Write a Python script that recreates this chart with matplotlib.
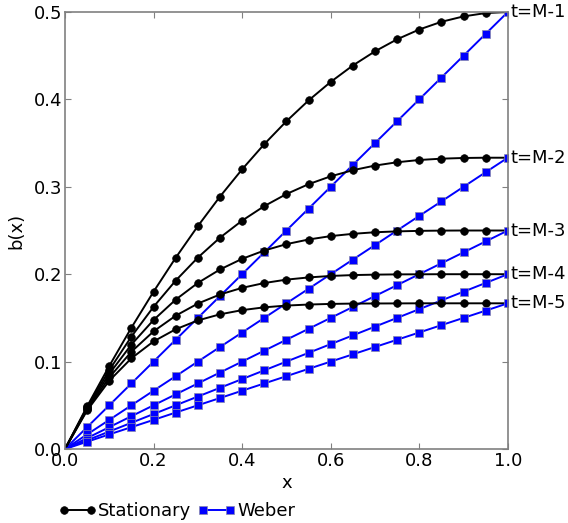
import matplotlib
matplotlib.use("Agg")
import matplotlib.pyplot as plt

x = [0.0, 0.05, 0.1, 0.15, 0.2, 0.25, 0.3, 0.35, 0.4, 0.45, 0.5,
     0.55, 0.6, 0.65, 0.7, 0.75, 0.8, 0.85, 0.9, 0.95, 1.0]

stat_m1 = [0, .0488, .095, .1388, .18, .2188, .255, .2888, .32, .3488, .375,
           .3988, .42, .4388, .455, .4688, .48, .4888, .495, .4988, .5]
stat_m2 = [0, .0475, .0903, .1286, .1627, .1927, .2190, .2418, .2613, .2779, .2917,
           .3030, .3120, .3190, .3243, .3281, .3307, .3322, .3330, .3333, .3333]
stat_m3 = [0, .0464, .0860, .1195, .1476, .1709, .1900, .2054, .2176, .2271, .2344,
           .2397, .2436, .2462, .2480, .2490, .2496, .2499, .2500, .2500, .25]
stat_m4 = [0, .0452, .0819, .1113, .1346, .1525, .1664, .1768, .1844, .1899, .1938,
           .1963, .1980, .1990, .1995, .1998, .1999, .2000, .2000, .2000, .2]
stat_m5 = [0, .0441, .0781, .1038, .1231, .1370, .1471, .1541, .1589, .1621, .1641,
           .1653, .1660, .1664, .1665, .1666, .1667, .1667, .1667, .1667, .1667]

weber_m1 = [0, .025, .05, .075, .1, .125, .15, .175, .2, .225, .25,
            .275, .3, .325, .35, .375, .4, .425, .45, .475, .5]
weber_m2 = [0, .0167, .0333, .05, .0667, .0833, .1, .1167, .1333, .15, .1667,
            .1833, .2, .2167, .2333, .25, .2667, .2833, .3, .3167, .3333]
weber_m3 = [0, .0125, .025, .0375, .05, .0625, .075, .0875, .1, .1125, .125,
            .1375, .15, .1625, .175, .1875, .2, .2125, .225, .2375, .25]
weber_m4 = [0, .01, .02, .03, .04, .05, .06, .07, .08, .09, .1,
            .11, .12, .13, .14, .15, .16, .17, .18, .19, .2]
weber_m5 = [0, .0083, .0167, .025, .0333, .0417, .05, .0583, .0667, .075, .0833,
            .0917, .1, .1083, .1167, .125, .1333, .1417, .15, .1583, .1667]

labels = ["t=M-1", "t=M-2", "t=M-3", "t=M-4", "t=M-5"]
stat_series = [stat_m1, stat_m2, stat_m3, stat_m4, stat_m5]
weber_series = [weber_m1, weber_m2, weber_m3, weber_m4, weber_m5]

plt.rcParams['font.family'] = ['DejaVu Sans']
fig = plt.figure(figsize=(5.68, 5.23), dpi=100)
ax = fig.add_axes([0.1144, 0.1415, 0.7796, 0.8355])

me = list(range(1, len(x)))
for i, (s, w) in enumerate(zip(stat_series, weber_series)):
    ax.plot(x, s, color='black', marker='o', markersize=5.5, lw=1.4,
            markevery=me, markeredgewidth=0.5,
            label='Stationary' if i == 0 else None)
    ax.plot(x, w, color='#0000ff', marker='s', markersize=5.5, lw=1.4,
            markevery=me, markeredgecolor='#8888aa', markeredgewidth=0.5,
            label='Weber' if i == 0 else None)
    ax.text(1.007, s[-1], labels[i], transform=ax.get_yaxis_transform(),
            va='center', ha='left', fontsize=13)

ax.set_xlim(0, 1)
ax.set_ylim(0, 0.5)
ax.set_xticks([0, 0.2, 0.4, 0.6, 0.8, 1.0])
ax.set_yticks([0, 0.1, 0.2, 0.3, 0.4, 0.5])
ax.set_xlabel('x', fontsize=13, labelpad=3)
ax.set_ylabel('b(x)', fontsize=13, labelpad=6)
ax.tick_params(direction='in', top=True, right=True, labelsize=13,
               color='#808080', length=4, pad=2)
for sp in ax.spines.values():
    sp.set_color('#808080')
    sp.set_linewidth(1.2)

fig.legend(loc='center left', bbox_to_anchor=(0.09, 0.022), ncol=2,
           frameon=False, fontsize=13, numpoints=2, handlelength=2.1,
           handletextpad=0.1, columnspacing=0.35, borderaxespad=0)

fig.savefig('out.png', dpi=100)
